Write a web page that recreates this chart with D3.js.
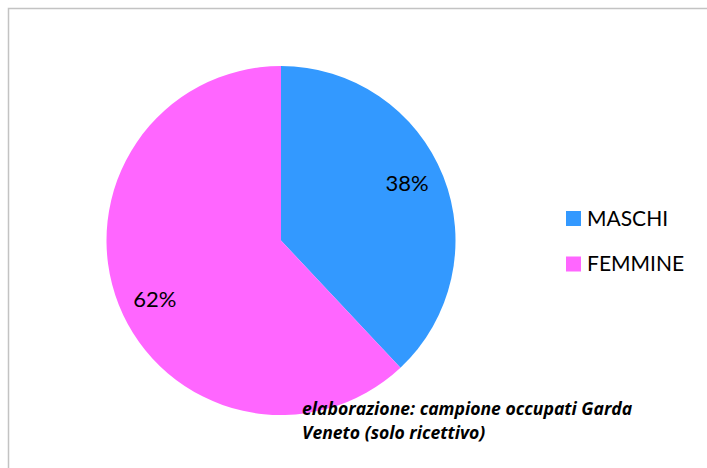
<!DOCTYPE html>
<html>
<head>
<meta charset="utf-8">
<script src="https://cdn.jsdelivr.net/npm/d3@7"></script>
<style>
  html, body { margin: 0; padding: 0; background: #fff; }
  svg { display: block; }
</style>
</head>
<body>
<svg id="chart" width="707" height="468"></svg>
<script>
const categories = ["MASCHI", "FEMMINE"];
const values = [38, 62];
const labels = ["38%", "62%"];
const colors = ["#3399FF", "#FF66FF"];
const noteLines = ["elaborazione: campione occupati Garda", "Veneto (solo ricettivo)"];

const svg = d3.select("#chart");
const W = 707, H = 468;
const font = "Lato, 'Open Sans', sans-serif";

svg.append("rect")
  .attr("x", 8.5).attr("y", 8.5)
  .attr("width", W + 20).attr("height", H + 20)
  .attr("fill", "#fff")
  .attr("stroke", "#C3C3C3")
  .attr("stroke-width", 1.5);

const cx = 281, cy = 240.5, r = 174.5;
const g = svg.append("g").attr("transform", `translate(${cx},${cy})`);

const pie = d3.pie().sort(null).value(d => d)(values);
const arc = d3.arc().innerRadius(0).outerRadius(r);
const labelR = 139, labelShift = -0.057;
const labelArc = d3.arc().innerRadius(labelR).outerRadius(labelR)
  .startAngle(d => d.startAngle + labelShift)
  .endAngle(d => d.endAngle + labelShift);

g.selectAll("path.slice").data(pie).join("path")
  .attr("class", "slice")
  .attr("d", arc)
  .attr("fill", (d, i) => colors[i]);

g.selectAll("text.lbl").data(pie).join("text")
  .attr("class", "lbl")
  .attr("transform", d => `translate(${labelArc.centroid(d)})`)
  .attr("text-anchor", "middle")
  .attr("dominant-baseline", "central")
  .attr("font-family", font)
  .attr("font-size", 22)
  .attr("fill", "#000")
  .text((d, i) => labels[i]);

// legend
const legend = svg.append("g").attr("transform", "translate(566,211)");
const item = legend.selectAll("g").data(categories).join("g")
  .attr("transform", (d, i) => `translate(0,${i * 45.5})`);
item.append("rect")
  .attr("width", 15).attr("height", 15)
  .attr("fill", (d, i) => colors[i]);
item.append("text")
  .attr("x", 21).attr("y", 14.5)
  .attr("font-family", font)
  .attr("font-size", 21)
  .attr("fill", "#000")
  .text(d => d);

// note
svg.append("g").selectAll("text").data(noteLines).join("text")
  .attr("x", 302)
  .attr("y", (d, i) => 415 + i * 24)
  .attr("font-family", "'Open Sans', Lato, sans-serif")
  .attr("font-size", 17.6)
  .attr("font-weight", "bold")
  .attr("font-style", "italic")
  .attr("fill", "#000")
  .text(d => d);
</script>
</body>
</html>
